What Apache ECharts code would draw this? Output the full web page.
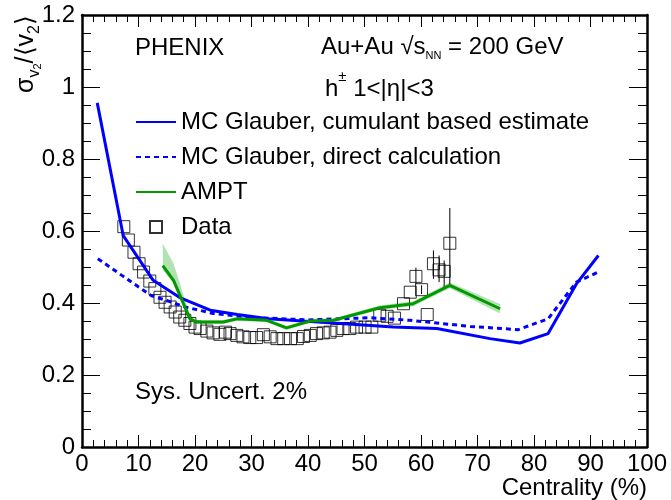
<!DOCTYPE html>
<html>
<head>
<meta charset="utf-8">
<script src="https://cdn.jsdelivr.net/npm/echarts@6/dist/echarts.min.js"></script>
<style>
  html, body { margin: 0; padding: 0; background: #fff; }
  #chart { width: 671px; height: 500px; }
</style>
</head>
<body>
<div id="chart"></div>
<script>
// MC Glauber, cumulant based estimate (solid)
const cumulantX = [2.7, 7.3, 12.6, 17.3, 22.7, 27.5, 33, 39, 45.1, 55.1, 62.8, 72.2, 77.5, 82.5, 87.5, 91.4];
const cumulantY = [0.956, 0.587, 0.463, 0.415, 0.38, 0.368, 0.356, 0.35, 0.344, 0.333, 0.329, 0.301, 0.289, 0.315, 0.453, 0.532];

// MC Glauber, direct calculation (dotted)
const directX = [2.8, 7.3, 12.3, 15, 18, 23.2, 30, 40, 51, 58, 68.7, 77.2, 82.5, 87.5, 91.4];
const directY = [0.523, 0.474, 0.42, 0.407, 0.39, 0.371, 0.36, 0.353, 0.359, 0.352, 0.335, 0.326, 0.356, 0.458, 0.486];

// AMPT line and its band
const amptX = [14.3, 16.2, 19.1, 20.3, 25, 27.4, 32.7, 36.2, 40.4, 44.5, 52.7, 58.6, 65.1, 74];
const amptY = [0.504, 0.463, 0.356, 0.347, 0.347, 0.356, 0.352, 0.331, 0.35, 0.352, 0.387, 0.398, 0.449, 0.384];
const amptLow = [0.492, 0.455, 0.349, 0.342, 0.342, 0.351, 0.347, 0.326, 0.345, 0.347, 0.381, 0.391, 0.441, 0.371];
const amptHigh = [0.565, 0.51, 0.366, 0.352, 0.352, 0.361, 0.357, 0.336, 0.355, 0.357, 0.393, 0.405, 0.457, 0.397];

// PHENIX data points
const dataX = [7.4, 8.2, 9.2, 10.1, 10.9, 12.0, 12.9, 13.8, 14.7, 15.6, 16.5, 17.3, 18.2, 19.1, 20.0, 20.9,
  22.1, 23.2, 24.4, 25.4, 26.2, 27.4, 28.5, 29.7, 30.9, 32.1, 33.3, 34.5, 35.7, 36.9, 38.1, 39.2, 40.4,
  41.5, 42.7, 43.9, 45.1, 46.2, 47.4, 48.6, 50.1, 51.3, 52.7, 54.0, 55.3, 56.9, 58.1, 59.1, 60.1, 61.1,
  62.2, 63.2, 64.1, 65.1];
const dataY = [0.612, 0.575, 0.541, 0.509, 0.486, 0.461, 0.44, 0.416, 0.402, 0.389, 0.375, 0.361, 0.352, 0.343, 0.333, 0.329,
  0.322, 0.317, 0.313, 0.319, 0.315, 0.31, 0.306, 0.304, 0.304, 0.312, 0.306, 0.301, 0.301, 0.301, 0.301, 0.307, 0.31,
  0.315, 0.317, 0.319, 0.324, 0.329, 0.329, 0.333, 0.333, 0.333, 0.366, 0.363, 0.358, 0.398, 0.43, 0.474, 0.437, 0.368,
  0.509, 0.492, 0.488, 0.566];

// error bars [centrality, low, high]
const errX = [59.1, 60.1, 62.2, 63.2, 64.1, 65.1];
const errLow = [0.452, 0.425, 0.467, 0.458, 0.444, 0.444];
const errHigh = [0.498, 0.449, 0.546, 0.532, 0.518, 0.664];

const xTicks = { min: 0, max: 100, step: 10 };
const yTicks = { min: 0, max: 1.2, step: 0.2 };

const FONT = 'Liberation Sans, Arial, sans-serif';
const FS = 24;
const BLUE = '#0000ff';
const GREEN = '#009900';

const zip = (xs, ys) => xs.map((x, i) => [x, ys[i]]);

const chart = echarts.init(document.getElementById('chart'), null, { renderer: 'canvas' });

function xAxisCfg(pos) {
  return {
    type: 'value',
    position: pos,
    min: xTicks.min,
    max: xTicks.max,
    interval: xTicks.step,
    axisLine: { show: true, onZero: false, lineStyle: { color: '#000', width: 2.5 } },
    axisTick: { show: true, inside: true, length: 12, lineStyle: { color: '#000', width: 1 } },
    minorTick: { show: true, splitNumber: 5, length: 7, lineStyle: { color: '#000', width: 1 } },
    axisLabel: { show: pos === 'bottom', fontSize: FS, color: '#000', fontFamily: FONT, margin: 5 },
    splitLine: { show: false },
  };
}

function yAxisCfg(pos) {
  return {
    type: 'value',
    position: pos,
    min: yTicks.min,
    max: yTicks.max,
    interval: yTicks.step,
    axisLine: { show: true, onZero: false, lineStyle: { color: '#000', width: 2.5 } },
    axisTick: { show: true, inside: true, length: 18, lineStyle: { color: '#000', width: 1 } },
    minorTick: { show: true, splitNumber: 4, length: 9, lineStyle: { color: '#000', width: 1 } },
    axisLabel: {
      show: pos === 'left', fontSize: FS, color: '#000', fontFamily: FONT, margin: 7,
      formatter: (v) => String(Math.round(v * 10) / 10),
    },
    splitLine: { show: false },
  };
}

const hideSymbol = { opacity: 0 };

const option = {
  backgroundColor: '#fff',
  animation: false,
  grid: { left: 82, right: 24, top: 15, bottom: 53 },
  xAxis: [xAxisCfg('bottom'), xAxisCfg('top')],
  yAxis: [yAxisCfg('left'), yAxisCfg('right')],
  legend: {
    orient: 'vertical',
    left: 135,
    top: 110,
    padding: 0,
    itemWidth: 40,
    itemHeight: 12,
    itemGap: 11,
    data: [
      { name: 'MC Glauber, cumulant based estimate', itemStyle: hideSymbol },
      { name: 'MC Glauber, direct calculation', itemStyle: hideSymbol },
      { name: 'AMPT', itemStyle: hideSymbol },
      { name: 'Data', icon: 'path://M0,0L10,0L10,10L0,10Z' },
    ],
    textStyle: { fontSize: FS, color: '#000', fontFamily: FONT, lineHeight: 24 },
    selectedMode: false,
  },
  graphic: [
    { type: 'text', left: 135, top: 36, style: { text: 'PHENIX', fontSize: FS, fontFamily: FONT, fill: '#000' } },
    {
      type: 'text', left: 321, top: 35,
      style: {
        text: '{t|Au+Au \u221A}{t|s}{sub|NN}{t| = 200 GeV}',
        fill: '#000',
        rich: {
          t: { fontSize: FS, fontFamily: FONT, lineHeight: 28, verticalAlign: 'middle' },
          sub: { fontSize: 11, fontFamily: FONT, verticalAlign: 'bottom', lineHeight: 28 },
        },
      },
    },
    {
      type: 'text', left: 325, top: 69,
      style: {
        text: '{t|h}{sup|\u00B1}{t| 1<|\u03B7|<3}',
        fill: '#000',
        rich: {
          t: { fontSize: FS, fontFamily: FONT, lineHeight: 32, verticalAlign: 'bottom' },
          sup: { fontSize: 15, fontFamily: FONT, verticalAlign: 'top', lineHeight: 32 },
        },
      },
    },
    { type: 'text', left: 135, top: 380, style: { text: 'Sys. Uncert. 2%', fontSize: FS, fontFamily: FONT, fill: '#000' } },
    {
      type: 'text', right: 24, top: 476,
      style: { text: 'Centrality (%)', fontSize: FS, fontFamily: FONT, fill: '#000' },
    },
    {
      type: 'text', x: 26, y: 54, rotation: Math.PI / 2,
      style: {
        text: '{t|\u03C3}{s|v}{ss|2}{t|/\u27E8v}{s|2}{t|\u27E9}',
        align: 'center', verticalAlign: 'middle', fill: '#000',
        rich: {
          t: { fontSize: 25, fontFamily: FONT, lineHeight: 34, verticalAlign: 'middle' },
          s: { fontSize: 16, fontFamily: FONT, lineHeight: 34, verticalAlign: 'bottom' },
          ss: { fontSize: 11, fontFamily: FONT, lineHeight: 34, verticalAlign: 'bottom', padding: [7, 0, 0, 0] },
        },
      },
    },
  ],
  series: [
    {
      name: 'amptBand', type: 'custom', silent: true, z: 1,
      data: amptX.map((x, i) => [x, amptLow[i], amptHigh[i]]),
      encode: { x: 0, y: [1, 2] },
      renderItem(params, api) {
        if (params.dataIndex !== 0) return null;
        const upper = amptX.map((x, i) => api.coord([x, amptHigh[i]]));
        const lower = amptX.map((x, i) => api.coord([x, amptLow[i]])).reverse();
        return {
          type: 'polygon',
          shape: { points: upper.concat(lower) },
          style: { fill: 'rgba(0,160,0,0.3)' },
        };
      },
    },
    {
      name: 'Data', type: 'scatter', data: zip(dataX, dataY), symbol: 'rect', symbolSize: 12,
      itemStyle: { color: 'rgba(0,0,0,0)', borderColor: '#000', borderWidth: 1 }, z: 2,
    },
    {
      name: 'errors', type: 'custom', data: errX.map((x, i) => [x, errLow[i], errHigh[i]]),
      encode: { x: 0, y: [1, 2] }, z: 2, silent: true,
      renderItem(params, api) {
        const x = api.value(0);
        const lo = api.coord([x, api.value(1)]);
        const hi = api.coord([x, api.value(2)]);
        return {
          type: 'line',
          shape: { x1: lo[0], y1: lo[1], x2: hi[0], y2: hi[1] },
          style: { stroke: '#000', lineWidth: 1 },
        };
      },
    },
    {
      name: 'MC Glauber, cumulant based estimate', type: 'line', data: zip(cumulantX, cumulantY),
      symbol: 'none', lineStyle: { color: BLUE, width: 3 }, itemStyle: { color: BLUE }, z: 3,
    },
    {
      name: 'MC Glauber, direct calculation', type: 'line', data: zip(directX, directY),
      symbol: 'none', lineStyle: { color: BLUE, width: 3, type: [5, 4] }, itemStyle: { color: BLUE }, z: 3,
    },
    {
      name: 'AMPT', type: 'line', data: zip(amptX, amptY),
      symbol: 'none', lineStyle: { color: GREEN, width: 3 }, itemStyle: { color: GREEN }, z: 3,
    },
  ],
};

chart.setOption(option);
</script>
</body>
</html>
